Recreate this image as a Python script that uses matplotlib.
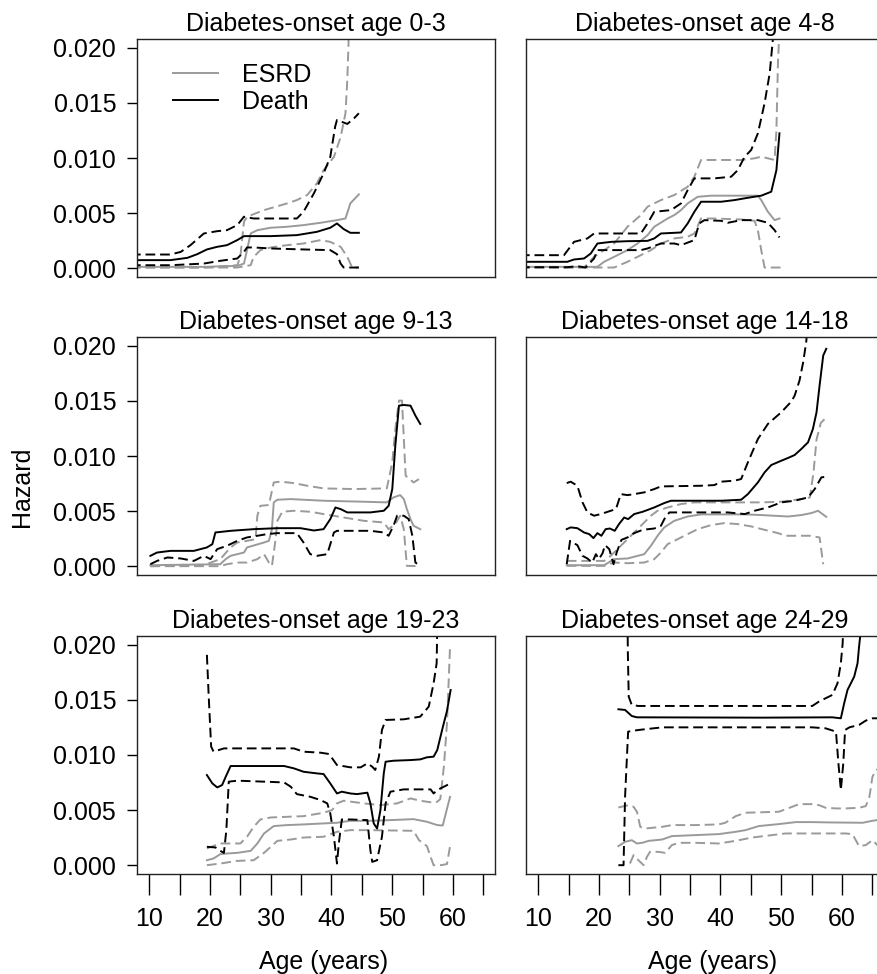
import matplotlib
matplotlib.use("Agg")
import matplotlib.pyplot as plt
import numpy as np

plt.rcParams['font.family'] = ['Liberation Sans', 'DejaVu Sans']
plt.rcParams['font.size'] = 18

# hazard curves: (age, hazard) pairs
# onset 0-3
p1_death = [(7.0, 0.00073), (13.5, 0.00073), (16.3, 0.00094), (17.9, 0.00127), (19.5, 0.0017), (21.2, 0.00194),
            (22.8, 0.00209), (24.5, 0.00255), (25.6, 0.00291), (27.2, 0.00291), (30.0, 0.00291), (34.3, 0.003),
            (37.6, 0.0033), (39.8, 0.00367), (40.9, 0.00406), (42.0, 0.00355), (43.1, 0.00321), (44.5, 0.00321)]
p1_death_hi = [(7.0, 0.00124), (13.5, 0.00124), (15.2, 0.00148), (16.8, 0.00209), (19.0, 0.00315), (21.2, 0.00336),
               (22.8, 0.00345), (24.5, 0.00391), (25.6, 0.00467), (27.2, 0.00451), (34.3, 0.00451), (35.4, 0.00512),
               (37.1, 0.00679), (38.7, 0.0086), (39.8, 0.0101), (40.6, 0.01285), (40.9, 0.01345), (42.6, 0.01309),
               (43.7, 0.0136), (44.5, 0.01406)]
p1_death_lo = [(7.0, 0.00027), (13.5, 0.00027), (19.0, 0.00042), (21.7, 0.00067), (24.5, 0.00088), (25.6, 0.00148),
               (26.1, 0.00188), (27.2, 0.00188), (30.0, 0.00179), (35.4, 0.0017), (39.8, 0.00164), (40.9, 0.00127),
               (41.5, 0.00042), (42.0, 0.00006), (44.5, 0.00006)]
p1_esrd = [(7.0, 0.00012), (19.0, 0.00012), (24.5, 0.00021), (25.6, 0.00042), (26.1, 0.00164), (26.7, 0.00315),
           (27.8, 0.00345), (30.0, 0.00367), (32.7, 0.00376), (35.4, 0.00391), (38.2, 0.00412), (40.9, 0.00436),
           (42.3, 0.00451), (43.1, 0.00588), (44.5, 0.0067)]
p1_esrd_hi = [(7.0, 0.00006), (19.0, 0.00006), (24.5, 0.00027), (25.0, 0.00103), (25.6, 0.00421), (26.1, 0.00467),
              (28.9, 0.00527), (32.7, 0.00588), (34.3, 0.00618), (36.0, 0.00664), (37.6, 0.0077), (38.7, 0.0089),
              (40.4, 0.0101), (41.5, 0.0119), (42.3, 0.01406), (42.6, 0.0171), (42.8, 0.0204), (43.0, 0.03),
              (44.5, 0.04)]
p1_esrd_lo = [(7.0, 0.00006), (24.5, 0.00006), (26.7, 0.00027), (27.2, 0.00103), (28.3, 0.00164), (30.0, 0.00188),
              (32.7, 0.00209), (35.4, 0.00224), (38.2, 0.00255), (39.8, 0.00239), (41.5, 0.00194), (42.6, 0.00103),
              (43.4, 0.00006), (44.5, 0.00006)]

# onset 4-8
p2_death = [(7.0, 0.00058), (14.8, 0.00058), (15.9, 0.00079), (17.55, 0.00088), (18.65, 0.00133), (19.75, 0.00224),
            (22.0, 0.00239), (24.7, 0.00245), (28.0, 0.00248), (29.1, 0.0027), (30.2, 0.00315), (33.5, 0.00324),
            (34.6, 0.00406), (35.7, 0.00512), (36.8, 0.00603), (40.1, 0.00603), (42.3, 0.00618), (44.5, 0.00639),
            (46.7, 0.00658), (48.35, 0.00694), (49.2, 0.0089), (49.7, 0.01224)]
p2_death_hi = [(7.0, 0.00118), (14.25, 0.00118), (15.9, 0.00239), (18.1, 0.0027), (19.2, 0.00315), (26.9, 0.00315),
               (28.0, 0.00406), (29.1, 0.00512), (31.85, 0.00527), (33.5, 0.00588), (34.6, 0.00709), (35.7, 0.00815),
               (39.0, 0.00815), (41.75, 0.0083), (42.85, 0.0089), (43.95, 0.0101), (45.05, 0.01073), (46.15, 0.01224),
               (47.25, 0.01497), (48.1, 0.0177), (48.6, 0.0207), (49.2, 0.03), (49.7, 0.035)]
p2_death_lo = [(7.0, 0.00009), (14.8, 0.00009), (16.45, 0.00018), (17.8, 0.00006), (19.2, 0.00088), (19.75, 0.00164),
               (26.9, 0.00164), (28.0, 0.00179), (30.2, 0.00224), (32.4, 0.00224), (33.5, 0.00209), (35.7, 0.00255),
               (36.5, 0.00406), (37.35, 0.00436), (40.1, 0.0043), (41.2, 0.00412), (43.4, 0.00436), (46.15, 0.00436),
               (47.8, 0.00412), (48.9, 0.00345), (49.7, 0.00279)]
p2_esrd = [(7.0, 0.00012), (19.75, 0.00012), (20.85, 0.00058), (22.5, 0.00103), (24.7, 0.00164), (26.35, 0.00224),
           (28.0, 0.003), (29.1, 0.00376), (31.3, 0.00451), (32.4, 0.00482), (33.5, 0.00527), (34.6, 0.00588),
           (36.25, 0.00648), (38.45, 0.00658), (46.15, 0.00658), (46.7, 0.00618), (47.8, 0.00512), (48.9, 0.00436),
           (49.7, 0.00451)]
p2_esrd_hi = [(7.0, 0.00006), (17.55, 0.00006), (19.2, 0.00103), (20.85, 0.00164), (22.5, 0.00224), (24.7, 0.00376),
              (26.9, 0.00482), (28.0, 0.00558), (30.2, 0.00618), (32.4, 0.00664), (34.6, 0.00739), (35.7, 0.0083),
              (36.8, 0.00982), (43.4, 0.00982), (45.6, 0.00997), (46.7, 0.01012), (48.9, 0.00982), (49.2, 0.01254),
              (49.45, 0.0186), (49.7, 0.0216), (49.8, 0.03)]
p2_esrd_lo = [(7.0, 0.00006), (22.5, 0.00006), (24.7, 0.00058), (26.35, 0.00103), (28.55, 0.00164), (30.2, 0.00224),
              (32.4, 0.0027), (34.6, 0.00285), (35.7, 0.00315), (36.8, 0.00451), (39.0, 0.00451), (43.4, 0.00442),
              (45.6, 0.0043), (46.15, 0.00345), (46.7, 0.00164), (47.25, 0.00006), (49.9, 0.00006)]

# onset 9-13 (upper death band lies above the plotted range)
p3_death = [(10.2, 0.00094), (11.3, 0.00124), (13.5, 0.00139), (17.35, 0.00139), (19.5, 0.0017), (20.4, 0.002),
            (20.9, 0.00306), (23.4, 0.00321), (27.2, 0.00336), (31.1, 0.00345), (34.9, 0.00345), (37.1, 0.00324),
            (38.7, 0.00336), (39.8, 0.00427), (40.65, 0.00533), (41.5, 0.00518), (42.6, 0.00488), (46.4, 0.00488),
            (48.6, 0.00503), (49.4, 0.00548), (50.0, 0.007), (50.5, 0.01094), (51.1, 0.01457), (51.9, 0.01463),
            (53.0, 0.01457), (53.8, 0.01367), (54.6, 0.01291)]
p3_death_hi = []
p3_death_lo = [(10.2, 0.00018), (11.3, 0.00048), (13.0, 0.00079), (15.2, 0.0007), (17.35, 0.00048), (19.0, 0.00094),
               (20.1, 0.00064), (21.2, 0.00155), (22.8, 0.00185), (24.5, 0.0023), (26.1, 0.00261), (27.8, 0.00276),
               (29.4, 0.00291), (31.1, 0.003), (34.3, 0.003), (35.4, 0.00215), (36.5, 0.00109), (37.6, 0.00094),
               (39.3, 0.00109), (40.4, 0.00306), (40.9, 0.00321), (46.4, 0.00321), (48.6, 0.00306), (49.4, 0.00276),
               (50.2, 0.00367), (50.8, 0.00458), (51.9, 0.00458), (52.7, 0.00427), (53.3, 0.00276), (53.8, 0.00033),
               (54.6, 0.00003)]
p3_esrd = [(10.2, 0.00009), (21.7, 0.00018), (22.6, 0.00064), (23.4, 0.00094), (25.6, 0.00124), (26.1, 0.0017),
           (28.9, 0.00215), (29.7, 0.0023), (30.2, 0.00336), (30.5, 0.00579), (31.1, 0.00603), (33.3, 0.00609),
           (38.7, 0.00594), (45.3, 0.00585), (49.1, 0.00579), (50.2, 0.00624), (51.3, 0.00645), (51.9, 0.00609),
           (52.4, 0.00518), (53.0, 0.00427), (53.5, 0.00367), (54.6, 0.00336)]
p3_esrd_hi = [(10.2, 0.0), (19.0, 0.0001), (21.7, 0.00064), (23.4, 0.0017), (24.5, 0.00215), (26.1, 0.0023),
              (27.5, 0.00245), (27.8, 0.00458), (28.3, 0.00548), (29.7, 0.00555), (30.5, 0.0076), (31.6, 0.00767),
              (33.8, 0.00754), (36.0, 0.0073), (38.7, 0.00706), (43.7, 0.007), (49.1, 0.00706), (50.0, 0.00942),
              (50.5, 0.01245), (51.1, 0.01503), (51.6, 0.01503), (51.9, 0.01154), (52.2, 0.00821), (53.5, 0.0076),
              (54.6, 0.00797)]
p3_esrd_lo = [(10.2, 0.0), (21.7, 0.0), (22.8, 0.00018), (24.5, 0.00033), (26.1, 0.00033), (27.8, 0.00064),
              (28.9, 0.00109), (29.7, 0.00033), (30.2, 0.00003), (30.8, 0.00245), (31.1, 0.00412), (31.9, 0.00494),
              (33.8, 0.00503), (36.5, 0.00494), (38.7, 0.00473), (42.0, 0.00442), (45.3, 0.00412), (48.6, 0.00397),
              (49.4, 0.00336), (50.5, 0.00382), (51.3, 0.00458), (51.9, 0.00336), (52.4, 0.00003), (54.6, 0.0)]

# onset 14-18
p4_death = [(14.7, 0.00336), (15.35, 0.00352), (16.45, 0.00345), (17.55, 0.00306), (18.4, 0.00291), (19.1, 0.00255),
            (19.75, 0.003), (20.4, 0.00276), (21.1, 0.00336), (21.8, 0.00342), (22.6, 0.00321), (23.3, 0.00382),
            (24.15, 0.00442), (24.8, 0.00427), (25.8, 0.00473), (27.2, 0.00494), (29.1, 0.00533), (30.75, 0.00573),
            (31.85, 0.00594), (40.1, 0.00594), (43.4, 0.00603), (44.5, 0.00654), (46.15, 0.0076), (47.25, 0.00851),
            (48.35, 0.00918), (50.0, 0.00957), (51.1, 0.00982), (52.2, 0.01009), (53.3, 0.01064), (54.4, 0.01124),
            (55.2, 0.01245), (55.8, 0.01397), (56.3, 0.01639), (56.9, 0.01912), (57.4, 0.01973)]
p4_death_hi = [(14.7, 0.00754), (15.35, 0.00767), (16.45, 0.0073), (17.3, 0.00579), (18.1, 0.00488), (19.2, 0.00458),
               (20.3, 0.00473), (21.95, 0.00503), (22.8, 0.00518), (23.6, 0.00654), (24.7, 0.00645), (25.8, 0.00654),
               (27.45, 0.0067), (29.1, 0.007), (30.2, 0.00724), (36.8, 0.0073), (39.0, 0.00736), (40.1, 0.00767),
               (42.3, 0.00776), (43.4, 0.00791), (44.5, 0.00942), (46.15, 0.01154), (47.8, 0.01291), (50.0, 0.01397),
               (51.65, 0.01494), (52.2, 0.01548), (53.0, 0.01685), (53.6, 0.01851), (54.1, 0.02033), (54.8, 0.025),
               (57.4, 0.04)]
p4_death_lo = [(14.7, 0.00018), (15.25, 0.0023), (16.45, 0.00191), (17.3, 0.00094), (18.1, 0.0007), (18.9, 0.00033),
               (19.5, 0.00109), (20.0, 0.00064), (20.6, 0.00118), (21.0, 0.00191), (21.7, 0.00155), (22.4, 0.00018),
               (22.95, 0.0013), (23.7, 0.00239), (24.7, 0.00261), (25.8, 0.003), (27.2, 0.0033), (29.1, 0.00342),
               (30.2, 0.00367), (30.9, 0.00442), (31.6, 0.00488), (41.2, 0.00488), (44.0, 0.00473), (45.6, 0.00503),
               (47.8, 0.00533), (50.0, 0.00579), (52.2, 0.00594), (54.4, 0.00624), (55.5, 0.007), (56.6, 0.00806),
               (57.4, 0.00812)]
p4_esrd = [(14.7, 0.00009), (20.85, 0.00009), (22.5, 0.00064), (24.7, 0.0007), (27.45, 0.00109), (28.55, 0.00185),
           (29.65, 0.00276), (30.75, 0.00352), (32.4, 0.00412), (34.6, 0.00451), (36.8, 0.0047), (43.95, 0.0047),
           (46.7, 0.00464), (51.1, 0.00451), (53.3, 0.00464), (54.95, 0.00482), (56.05, 0.00503), (57.15, 0.00458),
           (57.4, 0.00448)]
p4_esrd_hi = [(14.7, 0.00048), (20.85, 0.00048), (21.95, 0.00094), (23.05, 0.00155), (24.15, 0.00215), (25.25, 0.00276),
              (26.35, 0.00336), (27.45, 0.00397), (28.55, 0.00458), (29.65, 0.00503), (31.3, 0.00533), (33.5, 0.00564),
              (35.7, 0.00579), (46.7, 0.00579), (50.0, 0.00585), (53.3, 0.00609), (54.7, 0.00624), (55.3, 0.0085),
              (55.8, 0.0115), (56.5, 0.013), (57.4, 0.0135)]
p4_esrd_lo = [(14.7, 0.00003), (20.85, 0.00003), (22.5, 0.00033), (24.7, 0.00027), (27.45, 0.00033), (29.1, 0.00064),
              (30.2, 0.00124), (31.3, 0.002), (32.95, 0.00245), (34.6, 0.00291), (36.25, 0.00336), (38.45, 0.00373),
              (40.65, 0.00391), (42.85, 0.00382), (45.05, 0.00361), (47.25, 0.0033), (49.45, 0.003), (50.8, 0.00276),
              (54.7, 0.00276), (56.3, 0.00261), (56.6, 0.00139), (56.9, 0.00018)]

# onset 19-23
p5_death = [(19.5, 0.00818), (20.4, 0.00742), (21.2, 0.00706), (22.0, 0.00727), (22.6, 0.00803), (23.4, 0.009),
            (32.2, 0.009), (33.8, 0.00879), (35.4, 0.00848), (37.6, 0.00833), (38.7, 0.00827), (39.8, 0.00742),
            (40.9, 0.00651), (41.7, 0.00667), (43.1, 0.00651), (44.2, 0.00645), (45.9, 0.00658), (46.4, 0.00561),
            (46.95, 0.00379), (47.5, 0.00333), (48.05, 0.005), (48.6, 0.00833), (48.9, 0.00939), (50.2, 0.00948),
            (53.0, 0.00954), (54.6, 0.0096), (55.7, 0.00979), (56.8, 0.00985), (57.4, 0.01045), (58.3, 0.0125),
            (59.0, 0.014), (59.6, 0.0159)]
p5_death_hi = [(19.5, 0.01909), (19.8, 0.0153), (20.2, 0.01076), (20.6, 0.0103), (22.3, 0.0106), (33.8, 0.0106),
               (35.4, 0.0103), (38.2, 0.01021), (39.6, 0.01009), (40.9, 0.00909), (43.1, 0.00888), (44.8, 0.00888),
               (45.9, 0.00924), (46.7, 0.00894), (47.2, 0.00864), (47.8, 0.00985), (48.3, 0.01227), (48.9, 0.01318),
               (51.9, 0.01324), (54.6, 0.01348), (56.0, 0.01439), (56.8, 0.01651), (57.3, 0.01833), (57.5, 0.025),
               (59.6, 0.04)]
p5_death_lo = [(19.5, 0.00167), (20.9, 0.00161), (21.7, 0.0013), (22.3, 0.00112), (22.7, 0.00318), (23.1, 0.00758),
               (24.5, 0.00767), (28.9, 0.00758), (32.2, 0.00751), (33.3, 0.00712), (34.3, 0.00645), (36.5, 0.00621),
               (38.2, 0.00591), (39.3, 0.00561), (39.8, 0.0047), (40.4, 0.00258), (40.9, 0.00015), (41.2, 0.00197),
               (41.7, 0.00415), (43.1, 0.00415), (45.9, 0.00409), (46.4, 0.00136), (46.7, 0.0003), (47.5, 0.00045),
               (48.3, 0.00258), (48.9, 0.00561), (49.7, 0.00667), (51.9, 0.00688), (56.3, 0.00688), (56.8, 0.00651),
               (57.4, 0.00682), (58.4, 0.0071), (59.5, 0.0074)]
p5_esrd = [(19.5, 0.00045), (20.6, 0.00061), (21.7, 0.001), (22.8, 0.00106), (24.5, 0.00112), (26.7, 0.0013),
           (27.8, 0.00197), (28.9, 0.00288), (30.5, 0.00355), (32.7, 0.00364), (35.4, 0.0037), (38.7, 0.00379),
           (40.9, 0.00385), (43.1, 0.00403), (46.4, 0.00403), (49.7, 0.00409), (53.5, 0.00418), (55.7, 0.00394),
           (57.4, 0.00364), (58.3, 0.0036), (59.5, 0.0062)]
p5_esrd_hi = [(19.5, 0.00152), (21.7, 0.00197), (25.0, 0.00197), (26.1, 0.00258), (27.2, 0.00348), (28.3, 0.00415),
              (30.0, 0.00433), (35.4, 0.00445), (38.7, 0.00476), (40.1, 0.005), (40.9, 0.00561), (42.0, 0.00585),
              (45.3, 0.00561), (48.05, 0.00545), (50.8, 0.00561), (53.0, 0.00606), (54.6, 0.00585), (56.8, 0.00567),
              (57.4, 0.00576), (57.9, 0.006), (58.5, 0.009), (59.0, 0.0129), (59.5, 0.0198)]
p5_esrd_lo = [(19.5, 0.0), (21.7, 0.00015), (24.5, 0.00039), (27.2, 0.00045), (28.9, 0.00112), (31.1, 0.00221),
              (33.3, 0.00233), (35.4, 0.00251), (38.7, 0.00258), (40.9, 0.00303), (43.1, 0.00318), (46.4, 0.00318),
              (53.5, 0.00312), (54.4, 0.00227), (55.7, 0.00173), (56.5, 0.00045), (56.8, 0.0), (58.0, 0.0),
              (59.0, 0.0001), (59.5, 0.0017)]

# onset 24-29
p6_death = [(23.2, 0.01415), (24.3, 0.01409), (25.4, 0.01354), (26.25, 0.01342), (46.9, 0.01339), (58.4, 0.01342),
            (59.8, 0.01333), (60.35, 0.0147), (60.9, 0.01591), (61.45, 0.01651), (62.0, 0.01712), (62.55, 0.01833),
            (62.8, 0.01985), (63.1, 0.02136), (64.0, 0.03)]
p6_death_hi = [(24.6, 0.03), (24.75, 0.0195), (24.9, 0.0153), (25.4, 0.01454), (26.5, 0.01445), (55.1, 0.01445),
               (56.2, 0.01485), (57.3, 0.01515), (58.4, 0.01545), (59.25, 0.01651), (59.8, 0.01833), (60.1, 0.02015),
               (60.35, 0.025), (61.0, 0.04)]
p6_death_lo = [(23.2, 0.0), (24.05, 0.0), (24.3, 0.00621), (24.8, 0.01212), (26.5, 0.01227), (30.4, 0.01251),
               (55.1, 0.01251), (57.3, 0.01242), (59.0, 0.01212), (59.4, 0.00924), (59.8, 0.00682), (60.2, 0.00924),
               (60.5, 0.01227), (61.2, 0.01251), (62.8, 0.01273), (63.9, 0.01312), (65.0, 0.01333), (66.5, 0.01333)]
p6_esrd = [(23.2, 0.00173), (24.3, 0.00212), (25.4, 0.00227), (26.25, 0.00197), (27.1, 0.00203), (28.2, 0.00221),
           (30.4, 0.00233), (32.0, 0.00264), (35.9, 0.00273), (39.7, 0.00282), (42.5, 0.00303), (44.1, 0.00318),
           (46.3, 0.00355), (49.6, 0.00373), (52.4, 0.00391), (55.1, 0.00391), (57.9, 0.00388), (63.4, 0.00385),
           (65.0, 0.00403), (66.5, 0.00415)]
p6_esrd_hi = [(23.2, 0.00524), (24.9, 0.00545), (25.7, 0.0053), (26.25, 0.00485), (26.8, 0.00348), (27.6, 0.00333),
              (30.4, 0.00348), (32.0, 0.00364), (35.9, 0.00364), (39.7, 0.0037), (40.8, 0.00385), (42.5, 0.00445),
              (44.1, 0.00476), (49.6, 0.00485), (51.8, 0.0053), (52.9, 0.00554), (55.1, 0.00554), (56.2, 0.00545),
              (57.3, 0.00521), (59.0, 0.00515), (60.6, 0.00515), (62.8, 0.00521), (63.9, 0.00536), (64.5, 0.00621),
              (65.0, 0.00803), (65.6, 0.00864), (66.5, 0.00879)]
p6_esrd_lo = [(25.1, 0.00015), (25.7, 0.00091), (26.5, 0.00045), (27.35, 0.0), (27.9, 0.00076), (28.4, 0.00121),
              (29.8, 0.00121), (30.9, 0.00112), (32.0, 0.00182), (33.1, 0.00203), (35.9, 0.00203), (39.7, 0.00197),
              (42.5, 0.00221), (45.2, 0.00251), (48.5, 0.00273), (50.7, 0.00288), (60.6, 0.00288), (61.7, 0.00282),
              (62.8, 0.00173), (63.9, 0.00182), (65.0, 0.00227), (66.1, 0.00167)]

titles = ["Diabetes-onset age 0-3", "Diabetes-onset age 4-8", "Diabetes-onset age 9-13",
          "Diabetes-onset age 14-18", "Diabetes-onset age 19-23", "Diabetes-onset age 24-29"]
esrd_curves = [(p1_esrd, p1_esrd_lo, p1_esrd_hi), (p2_esrd, p2_esrd_lo, p2_esrd_hi),
               (p3_esrd, p3_esrd_lo, p3_esrd_hi), (p4_esrd, p4_esrd_lo, p4_esrd_hi),
               (p5_esrd, p5_esrd_lo, p5_esrd_hi), (p6_esrd, p6_esrd_lo, p6_esrd_hi)]
death_curves = [(p1_death, p1_death_lo, p1_death_hi), (p2_death, p2_death_lo, p2_death_hi),
                (p3_death, p3_death_lo, p3_death_hi), (p4_death, p4_death_lo, p4_death_hi),
                (p5_death, p5_death_lo, p5_death_hi), (p6_death, p6_death_lo, p6_death_hi)]
y_ticks = [0.0, 0.005, 0.010, 0.015, 0.020]
x_ticks = list(range(10, 70, 5))

GREY = '#9a9a9a'
LW = 1.4
DASH = (5, 2.5)

W, H = 877, 974
fig = plt.figure(figsize=(W / 100, H / 100), dpi=100)

# panel boxes in pixels (left, top, width, height)
col_left = [137, 526]
row_top = [39, 337, 636]
box_w, box_h = 358, 238


def draw(ax, pts, color, dashed, label=None):
    if not pts:
        return
    arr = np.array(pts)
    line, = ax.plot(arr[:, 0], arr[:, 1], color=color, lw=LW, label=label)
    if dashed:
        line.set_dashes(DASH)
    return line


for i in range(6):
    r, c = divmod(i, 2)
    ax = fig.add_axes([col_left[c] / W, 1 - (row_top[r] + box_h) / H, box_w / W, box_h / H])
    esrd, esrd_lo, esrd_hi = esrd_curves[i]
    death, death_lo, death_hi = death_curves[i]
    draw(ax, esrd_hi, GREY, True)
    draw(ax, esrd_lo, GREY, True)
    draw(ax, esrd, GREY, False, 'ESRD')
    draw(ax, death_hi, 'black', True)
    draw(ax, death_lo, 'black', True)
    draw(ax, death, 'black', False, 'Death')

    ax.set_xlim(8.0, 66.9)
    ax.set_ylim(-0.0008, 0.0208)
    ax.set_title(titles[i], fontsize=18, pad=6)
    for sp in ax.spines.values():
        sp.set_linewidth(1.0)
        sp.set_color('#222222')

    if c == 0:
        ax.set_yticks(y_ticks)
        ax.set_yticklabels([f"{v:.3f}" for v in y_ticks])
        ax.tick_params(axis='y', length=7, width=1, pad=8, labelsize=18)
    else:
        ax.set_yticks([])
    if r == 2:
        ax.set_xticks(x_ticks)
        ax.set_xticklabels([str(v) if v % 10 == 0 else '' for v in x_ticks])
        ax.tick_params(axis='x', length=15, width=1, pad=9, labelsize=18)
        ax.set_xlabel('Age (years)', fontsize=18)
        ax.xaxis.set_label_coords(0.52, -0.32)
    else:
        ax.set_xticks([])

    if i == 0:
        ax.legend(loc='upper left', bbox_to_anchor=(0.10, 0.90), frameon=False, fontsize=18,
                  handlelength=1.8, handletextpad=0.95, labelspacing=0.12, borderpad=0,
                  borderaxespad=0)

fig.text(22 / W, 1 - 487 / H, 'Hazard', rotation=90, ha='center', va='center', fontsize=18)

fig.savefig('out.png', dpi=100)
